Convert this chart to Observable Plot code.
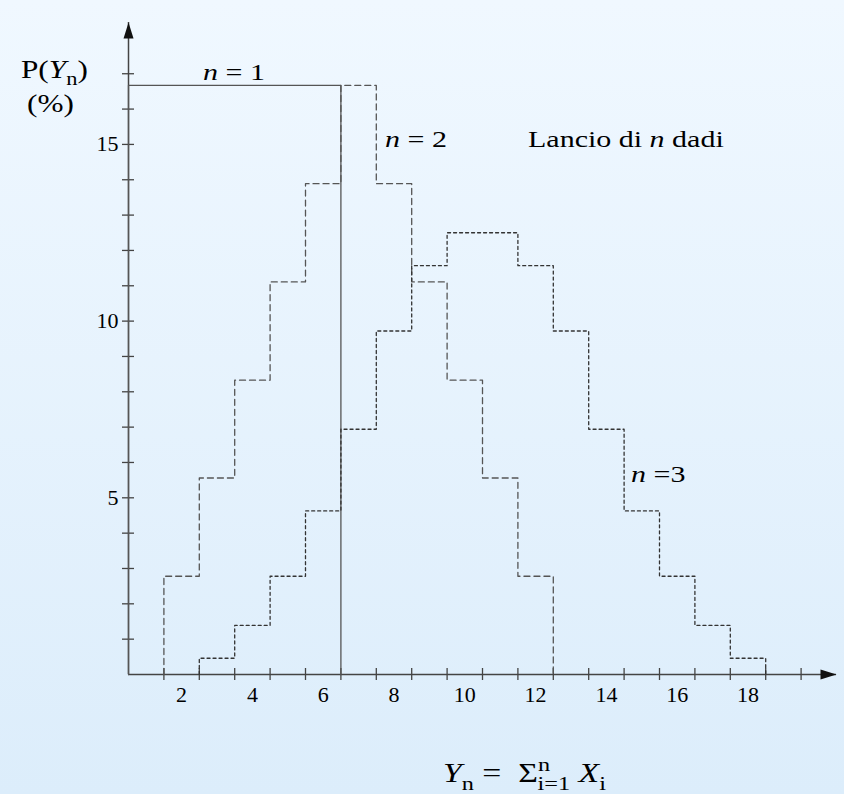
<!DOCTYPE html>
<html>
<head>
<meta charset="utf-8">
<script src="https://cdn.jsdelivr.net/npm/d3@7"></script>
<script src="https://cdn.jsdelivr.net/npm/@observablehq/plot@0.6"></script>
<style>
  html, body { margin: 0; padding: 0; }
  body {
    width: 844px; height: 794px; overflow: hidden;
    background: linear-gradient(to bottom, #f0f8ff, #dcedfb);
  }
  #chart svg { display: block; background: transparent; }
</style>
</head>
<body>
<div id="chart"></div>
<script>
// Probability (%) of each total when throwing n fair dice
const sums1 = [1, 2, 3, 4, 5, 6];
const pct1  = [16.67, 16.67, 16.67, 16.67, 16.67, 16.67];

const sums2 = [2, 3, 4, 5, 6, 7, 8, 9, 10, 11, 12];
const pct2  = [2.78, 5.56, 8.33, 11.11, 13.89, 16.67, 13.89, 11.11, 8.33, 5.56, 2.78];

const sums3 = [3, 4, 5, 6, 7, 8, 9, 10, 11, 12, 13, 14, 15, 16, 17, 18];
const pct3  = [0.46, 1.39, 2.78, 4.63, 6.94, 9.72, 11.57, 12.5, 12.5, 11.57, 9.72, 6.94, 4.63, 2.78, 1.39, 0.46];

// Axis ticks and labels
const xTickLabels = [2, 4, 6, 8, 10, 12, 14, 16, 18];
const xTickMarks  = [1.5, 2.5, 3.5, 4.5, 5.5, 6.5, 7.5, 8.5, 9.5, 10.5, 11.5, 12.5, 13.5, 14.5, 15.5, 16.5, 17.5, 18.5, 19.5];
const yTickLabels = [5, 10, 15];
const yTickMarks  = [1, 2, 3, 4, 5, 6, 7, 8, 9, 10, 11, 12, 13, 14, 15, 16, 17];

// Outline of a histogram: each total occupies [s - 0.5, s + 0.5]
function outline(sums, pct) {
  const pts = [{x: sums[0] - 0.5, y: 0}];
  sums.forEach((s, i) => pts.push({x: s + 0.5, y: pct[i]}));
  pts.push({x: sums[sums.length - 1] + 0.5, y: 0});
  return pts;
}

// Filled arrow head with its tip at the origin, pointing up
const arrowHead = {
  draw(ctx) {
    ctx.moveTo(0, 0);
    ctx.lineTo(-5, 16);
    ctx.lineTo(5, 16);
    ctx.closePath();
  }
};

const AXIS = "#444";
const FONT = "Liberation Serif";
const SX = 1.25; // horizontal stretch of the lettering
const NB = "\u00A0";

const chart = Plot.plot({
  width: 844,
  height: 794,
  marginLeft: 128,
  marginRight: 8,
  marginTop: 22,
  marginBottom: 120,
  style: {background: "transparent", fontFamily: FONT, color: "#000"},
  x: {domain: [0.5, 20.5], axis: null},
  y: {domain: [0, 18.45], axis: null},
  marks: [
    // axes
    Plot.ruleX([0.5], {stroke: AXIS, strokeWidth: 1.5}),
    Plot.ruleY([0], {stroke: AXIS, strokeWidth: 1.5}),
    Plot.dot([{x: 0.5, y: 18.45}], {x: "x", y: "y", symbol: arrowHead, fill: "#111", stroke: "none"}),
    Plot.dot([{x: 20.5, y: 0}], {x: "x", y: "y", symbol: arrowHead, rotate: 90, fill: "#111", stroke: "none"}),
    // ticks crossing the axes
    Plot.ruleY(yTickMarks, {y: d => d, x1: 0.5, x2: 0.5, insetLeft: -6, insetRight: -6, stroke: AXIS, strokeWidth: 1.3}),
    Plot.ruleX(xTickMarks, {x: d => d, y1: 0, y2: 0, insetTop: -6, insetBottom: -6, stroke: AXIS, strokeWidth: 1.3}),
    // tick labels
    Plot.text(yTickLabels, {x: 0.5, y: d => d, text: d => String(d), textAnchor: "end", dx: -10, fontSize: 22, fill: "#000", ariaLabel: "ylabels"}),
    Plot.text(xTickLabels, {x: d => d, y: 0, text: d => String(d), dy: 20, fontSize: 22, fill: "#000", ariaLabel: "xlabels"}),
    // distributions
    Plot.line(outline(sums1, pct1), {x: "x", y: "y", curve: "step-before", stroke: "#555", strokeWidth: 1.3}),
    Plot.line(outline(sums2, pct2), {x: "x", y: "y", curve: "step-before", stroke: "#555", strokeWidth: 1.3, strokeDasharray: "6,4"}),
    Plot.line(outline(sums3, pct3), {x: "x", y: "y", curve: "step-before", stroke: "#333", strokeWidth: 1.3, strokeDasharray: "3,3"})
  ]
});

document.getElementById("chart").appendChild(chart);

const svg = d3.select(chart);
const xs = chart.scale("x"), ys = chart.scale("y");

// stretch tick labels horizontally
svg.selectAll('g[aria-label="ylabels"] text, g[aria-label="xlabels"] text').each(function () {
  const t = this.getAttribute("transform") || "";
  this.setAttribute("transform", t + ` scale(1.15,1)`);
});

// Rich text in one <text>, pieces flowing as tspans.
// piece: {t, i (italic), s: "sub"|"sup", dx}
function richText(x, y, pieces, size) {
  const text = svg.append("text")
    .attr("transform", `translate(${x},${y}) scale(${SX},1)`)
    .attr("text-anchor", "start")
    .attr("font-family", FONT)
    .attr("font-size", size)
    .attr("fill", "#000");
  let shift = 0;
  for (const p of pieces) {
    const target = p.s === "sub" ? size * 0.28 : p.s === "sup" ? -size * 0.42 : 0;
    const ts = text.append("tspan")
      .attr("dy", target - shift)
      .attr("font-style", p.i ? "italic" : "normal")
      .attr("font-size", p.s ? size * 0.72 : size)
      .text(p.t.replace(/ /g, NB));
    if (p.dx) ts.attr("dx", p.dx);
    shift = target;
  }
  return text;
}

// annotations
richText(xs.apply(2.62), ys.apply(16.81), [{t: "n", i: true}, {t: " = 1"}], 24);
richText(xs.apply(7.76), ys.apply(14.91), [{t: "n", i: true}, {t: " = 2"}], 24);
richText(xs.apply(11.8), ys.apply(14.91), [{t: "Lancio di "}, {t: "n", i: true}, {t: " dadi"}], 24);
richText(xs.apply(14.71), ys.apply(5.43), [{t: "n", i: true}, {t: " =3"}], 24);

// y axis title
richText(21, ys.apply(16.86), [{t: "P("}, {t: "Y", i: true}, {t: "n", s: "sub"}, {t: ")"}], 25);
richText(27, ys.apply(15.9), [{t: "(%)"}], 25);

// x axis title
richText(443, 782, [
  {t: "Y", i: true}, {t: "n", s: "sub"}, {t: " =  Σ"},
  {t: "n", s: "sup"}, {t: "i=1", s: "sub", dx: -10},
  {t: " "}, {t: "X", i: true}, {t: "i", s: "sub"}
], 27);
</script>
</body>
</html>
